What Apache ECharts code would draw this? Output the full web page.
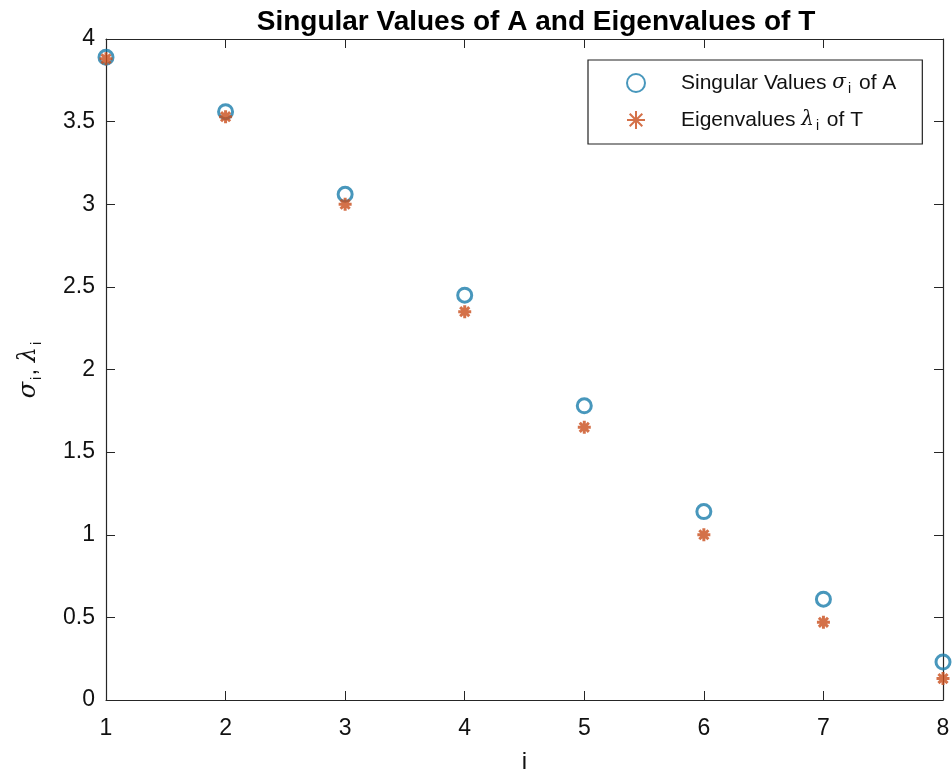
<!DOCTYPE html>
<html>
<head>
<meta charset="utf-8">
<script src="https://cdn.jsdelivr.net/npm/echarts@6/dist/echarts.min.js"></script>
<style>html,body{margin:0;padding:0;background:#fff;}#c{width:952px;height:777px;}</style>
</head>
<body>
<div id="c"></div>
<script>
const indices = [1, 2, 3, 4, 5, 6, 7, 8];
const singularValues = [3.89, 3.56, 3.06, 2.45, 1.78, 1.14, 0.61, 0.23];
const eigenValues = [3.88, 3.53, 3.00, 2.35, 1.65, 1.00, 0.47, 0.13];
const xTicks = [1, 2, 3, 4, 5, 6, 7, 8];
const yTicks = [0, 0.5, 1, 1.5, 2, 2.5, 3, 3.5, 4];

const FONT = '"Liberation Sans", Arial, Helvetica, sans-serif';
const AX = '#262626';
const BLUE = '#1a7dab';
const ORANGE = '#c94d1c';
const ASTERISK = 'path://M50,0L50,100M0,50L100,50M15,15L85,85M15,85L85,15';

const chart = echarts.init(document.getElementById('c'), null, {renderer: 'canvas'});
const tickLine = {show: true, inside: true, length: 9, lineStyle: {color: AX, width: 1}};
const axisLine = {show: true, onZero: false, lineStyle: {color: AX, width: 1.2}};

chart.setOption({
  backgroundColor: '#fff',
  animation: false,
  title: {
    text: 'Singular Values of A and Eigenvalues of T',
    left: 531, top: 3, textAlign: 'center',
    textStyle: {fontFamily: FONT, fontSize: 28, fontWeight: 'bold', color: '#000'}
  },
  grid: {left: 106, right: 9, top: 39, bottom: 77, containLabel: false, outerBoundsMode: 'none'},
  legend: {
    orient: 'vertical',
    left: 588, top: 60,
    padding: [12, 26, 11, 38],
    itemGap: 13,
    itemWidth: 18, itemHeight: 18,
    borderColor: '#222', borderWidth: 1.2,
    backgroundColor: '#fff',
    data: ['sv', 'ev'],
    formatter: function (n) {
      if (n === 'sv') return '{a|Singular Values }{g|σ}{s|i}{a| of A}';
      return '{a|Eigenvalues }{g|λ}{s|i}{a| of }{b|T}';
    },
    textStyle: {
      fontFamily: FONT, fontSize: 21, color: '#111', padding: [0, 0, 0, 31],
      rich: {
        a: {fontFamily: FONT, fontSize: 21, color: '#111', lineHeight: 26, verticalAlign: 'middle'},
        b: {fontFamily: FONT, fontSize: 21, color: '#111', lineHeight: 26, verticalAlign: 'middle'},
        g: {fontFamily: '"DejaVu Serif", serif', fontStyle: 'italic', fontSize: 20, color: '#111', lineHeight: 26, verticalAlign: 'middle'},
        s: {fontFamily: FONT, fontSize: 14, color: '#111', lineHeight: 14, verticalAlign: 'bottom', padding: [10, 2, 0, 2]}
      }
    }
  },
  xAxis: [{
    type: 'value', min: 1, max: 8, interval: 1,
    name: 'i', nameLocation: 'middle', nameGap: 50,
    nameTextStyle: {fontFamily: FONT, fontSize: 24, color: '#111'},
    axisLine: axisLine, axisTick: tickLine, splitLine: {show: false},
    axisLabel: {fontFamily: FONT, fontSize: 23, color: '#111', margin: 17,
      formatter: v => xTicks.includes(v) ? String(v) : ''}
  }, {
    type: 'value', min: 1, max: 8, interval: 1, position: 'top',
    axisLine: axisLine, axisTick: tickLine, splitLine: {show: false}, axisLabel: {show: false}
  }],
  yAxis: [{
    type: 'value', min: 0, max: 4, interval: 0.5,
    name: '{g|σ}{s|i}{a|, }{g|λ}{s|i}', nameLocation: 'middle', nameGap: 62, nameRotate: 90,
    nameTextStyle: {
      fontFamily: FONT, fontSize: 24, color: '#111',
      rich: {
        a: {fontFamily: FONT, fontSize: 24, color: '#111', lineHeight: 30, verticalAlign: 'middle'},
        g: {fontFamily: '"DejaVu Serif", serif', fontStyle: 'italic', fontSize: 24, color: '#111', lineHeight: 30, verticalAlign: 'middle'},
        s: {fontFamily: FONT, fontSize: 15, color: '#111', lineHeight: 15, verticalAlign: 'bottom', padding: [11, 1, 0, 2]}
      }
    },
    axisLine: axisLine, axisTick: tickLine, splitLine: {show: false},
    axisLabel: {fontFamily: FONT, fontSize: 23, color: '#111', margin: 11,
      formatter: v => yTicks.includes(v) ? String(v) : ''}
  }, {
    type: 'value', min: 0, max: 4, interval: 0.5, position: 'right',
    axisLine: axisLine, axisTick: tickLine, splitLine: {show: false}, axisLabel: {show: false}
  }],
  series: [{
    name: 'sv', type: 'scatter',
    data: indices.map((x, k) => [x, singularValues[k]]),
    symbol: 'circle', symbolSize: 14,
    itemStyle: {color: 'rgba(255,255,255,0)', borderColor: BLUE, borderWidth: 3},
    z: 2
  }, {
    name: 'ev', type: 'scatter',
    data: indices.map((x, k) => [x, eigenValues[k]]),
    symbol: ASTERISK, symbolSize: 13,
    itemStyle: {color: 'rgba(0,0,0,0)', borderColor: ORANGE, borderWidth: 3},
    z: 3
  }]
});
</script>
</body>
</html>
